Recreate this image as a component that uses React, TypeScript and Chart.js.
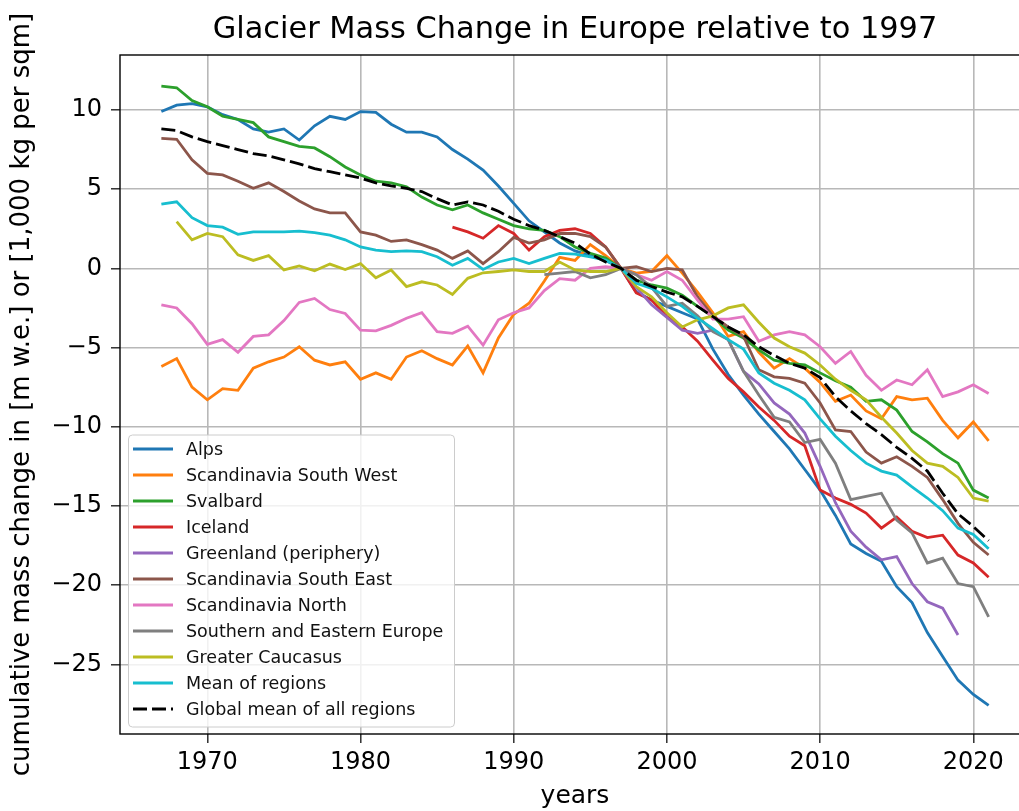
import { useEffect, useRef } from "react";
import { Chart, registerables } from "chart.js";

Chart.register(...registerables);

const years = [
  1967, 1968, 1969, 1970, 1971, 1972, 1973, 1974, 1975, 1976,
  1977, 1978, 1979, 1980, 1981, 1982, 1983, 1984, 1985, 1986,
  1987, 1988, 1989, 1990, 1991, 1992, 1993, 1994, 1995, 1996,
  1997, 1998, 1999, 2000, 2001, 2002, 2003, 2004, 2005, 2006,
  2007, 2008, 2009, 2010, 2011, 2012, 2013, 2014, 2015, 2016,
  2017, 2018, 2019, 2020, 2021,
];

const alps = [
  9.9, 10.3, 10.4, 10.2, 9.7, 9.4, 8.8, 8.6, 8.8, 8.1,
  9.0, 9.6, 9.4, 9.9, 9.85, 9.1, 8.6, 8.6, 8.3, 7.5,
  6.9, 6.2, 5.2, 4.1, 3.0, 2.3, 1.6, 1.1, 0.8, 0.5,
  0, -1.5, -2.0, -2.4, -2.8, -3.2, -5.1, -6.7, -8.0, -9.2,
  -10.3, -11.4, -12.7, -14.0, -15.6, -17.4, -18.0, -18.5, -20.1, -21.1,
  -23.0, -24.5, -26.0, -26.9, -27.6,
];

const scandSouthWest = [
  -6.2, -5.7, -7.5, -8.3, -7.6, -7.7, -6.3, -5.9, -5.6, -4.95,
  -5.8, -6.1, -5.9, -7.0, -6.6, -7.0, -5.6, -5.2, -5.7, -6.1,
  -4.9, -6.6, -4.4, -2.9, -2.2, -0.8, 0.7, 0.5, 1.5, 0.8,
  0, -0.3, -0.2, 0.8, -0.3, -1.5, -2.8, -4.3, -4.0, -5.3,
  -6.3, -5.7, -6.3, -7.2, -8.4, -8.0, -9.0, -9.5, -8.1, -8.3,
  -8.2, -9.6, -10.7, -9.7, -10.9,
];

const svalbard = [
  11.5, 11.4, 10.6, 10.2, 9.6, 9.4, 9.2, 8.3, 8.0, 7.7,
  7.6, 7.05, 6.4, 5.9, 5.5, 5.4, 5.15, 4.5, 4.0, 3.7,
  4.0, 3.5, 3.1, 2.7, 2.5, 2.4, 2.0, 1.35, 0.95, 0.65,
  0, -0.75, -1.05, -1.25, -1.7, -2.4, -3.05, -3.9, -4.4, -5.15,
  -5.8, -6.0, -6.1, -6.6, -7.1, -7.5, -8.4, -8.3, -8.95, -10.3,
  -10.95, -11.7, -12.3, -14.0, -14.5,
];

const iceland = [
  null, null, null, null, null, null, null, null, null, null,
  null, null, null, null, null, null, null, null, null, 2.6,
  2.3, 1.9, 2.7, 2.2, 1.15, 2.0, 2.4, 2.5, 2.2, 1.35,
  0, -1.55, -2.0, -3.05, -3.7, -4.6, -5.8, -6.95, -7.8, -8.75,
  -9.6, -10.6, -11.2, -14.0, -14.5, -14.9, -15.45, -16.4, -15.7, -16.6,
  -17.0, -16.85, -18.1, -18.6, -19.5,
];

const greenland = [
  null, null, null, null, null, null, null, null, null, null,
  null, null, null, null, null, null, null, null, null, null,
  null, null, null, null, null, null, null, null, null, null,
  0, -1.2, -2.3, -3.1, -3.9, -4.1, -3.9, -4.5, -6.5, -7.3,
  -8.5, -9.2, -10.4, -12.5, -14.8, -16.6, -17.6, -18.4, -18.2, -19.9,
  -21.05, -21.45, -23.15, null, null,
];

const scandSouthEast = [
  8.2, 8.15, 6.85, 6.0, 5.9, 5.5, 5.05, 5.4, 4.85, 4.25,
  3.75, 3.5, 3.5, 2.3, 2.1, 1.7, 1.8, 1.5, 1.15, 0.63,
  1.1, 0.3, 1.05, 1.95, 1.6, 1.8, 2.2, 2.2, 2.0, 1.35,
  0, 0.1, -0.2, 0.0, -0.1, -1.8, -3.0, -3.7, -4.3, -6.4,
  -6.85, -6.95, -7.25, -8.5, -10.2, -10.3, -11.6, -12.3, -11.9, -12.5,
  -13.2, -14.6, -16.1, -17.3, -18.1,
];

const scandNorth = [
  -2.3, -2.5, -3.5, -4.8, -4.5, -5.3, -4.3, -4.2, -3.3, -2.15,
  -1.9, -2.6, -2.85, -3.9, -3.95, -3.6, -3.15, -2.8, -4.0, -4.1,
  -3.65, -4.85, -3.25, -2.8, -2.5, -1.4, -0.65, -0.75, 0.0, 0.1,
  0, -0.4, -0.75, -0.2, -0.75, -2.0, -3.2, -3.2, -3.05, -4.6,
  -4.2, -4.0, -4.2, -4.95, -6.0, -5.25, -6.75, -7.7, -7.05, -7.35,
  -6.4, -8.1, -7.8, -7.35, -7.9,
];

const southEastEurope = [
  null, null, null, null, null, null, null, null, null, null,
  null, null, null, null, null, null, null, null, null, null,
  null, null, null, null, null, -0.4, -0.3, -0.2, -0.6, -0.4,
  0, -0.4, -1.2, -2.4, -2.2, -3.0, -4.0, -4.5, -6.5, -8.0,
  -9.4, -9.7, -11.0, -10.8, -12.3, -14.6, -14.4, -14.2, -15.9, -16.7,
  -18.6, -18.3, -19.9, -20.1, -22.0,
];

const caucasus = [
  null, 2.95, 1.8, 2.2, 2.0, 0.85, 0.5, 0.8, -0.1, 0.15,
  -0.15, 0.27, -0.07, 0.3, -0.6, -0.1, -1.15, -0.85, -1.05, -1.65,
  -0.63, -0.28, -0.2, -0.1, -0.2, -0.2, 0.4, -0.1, -0.2, -0.2,
  0, -1.15, -1.8, -2.8, -3.7, -3.25, -3.0, -2.5, -2.3, -3.4,
  -4.4, -4.95, -5.35, -6.1, -7.0, -7.7, -8.3, -9.4, -10.4, -11.5,
  -12.3, -12.5, -13.2, -14.5, -14.7,
];

const meanRegions = [
  4.05, 4.2, 3.2, 2.7, 2.6, 2.15, 2.3, 2.3, 2.3, 2.35,
  2.25, 2.1, 1.8, 1.35, 1.15, 1.05, 1.1, 1.05, 0.73, 0.2,
  0.63, -0.07, 0.4, 0.63, 0.3, 0.63, 0.95, 0.9, 0.73, 0.52,
  0, -0.95, -1.26, -1.8, -2.4, -3.15, -3.8, -4.5, -5.1, -6.6,
  -7.25, -7.7, -8.3, -9.5, -10.6, -11.5, -12.3, -12.8, -13.05, -13.8,
  -14.5, -15.3, -16.4, -16.8, -17.7,
];

const globalMean = [
  8.8, 8.7, 8.3, 8.0, 7.75, 7.5, 7.25, 7.1, 6.85, 6.6,
  6.3, 6.1, 5.9, 5.7, 5.4, 5.2, 5.05, 4.85, 4.4, 4.0,
  4.2, 4.0, 3.6, 3.1, 2.7, 2.4, 2.0, 1.6, 0.9, 0.4,
  0, -0.75, -1.15, -1.5, -1.8, -2.4, -3.05, -3.7, -4.2, -4.95,
  -5.5, -6.0, -6.3, -6.9, -8.1, -9.0, -9.8, -10.5, -11.3, -12.0,
  -12.8, -14.2, -15.5, -16.3, -17.2,
];

const seriesLabels = [
  "Alps",
  "Scandinavia South West",
  "Svalbard",
  "Iceland",
  "Greenland (periphery)",
  "Scandinavia South East",
  "Scandinavia North",
  "Southern and Eastern Europe",
  "Greater Caucasus",
  "Mean of regions",
  "Global mean of all regions",
];
const seriesValues = [
  alps, scandSouthWest, svalbard, iceland, greenland, scandSouthEast,
  scandNorth, southEastEurope, caucasus, meanRegions, globalMean,
];
const seriesColors = [
  "#1f77b4", "#ff7f0e", "#2ca02c", "#d62728", "#9467bd", "#8c564b",
  "#e377c2", "#7f7f7f", "#bcbd22", "#17becf", "#000000",
];

const xTicks = [1970, 1980, 1990, 2000, 2010, 2020];
const yTicks = [-25, -20, -15, -10, -5, 0, 5, 10];

const titleText = "Glacier Mass Change in Europe relative to 1997";
const xTitle = "years";
const yTitle = "cumulative mass change in [m w.e.] or [1,000 kg per sqm]";

const FONT = '"DejaVu Sans", "Liberation Sans", sans-serif';
const DASH = [14, 5];
const LW = 2.8;

const decorPlugin = {
  id: "decor",
  afterDraw(chart: any) {
    const ctx = chart.ctx as CanvasRenderingContext2D;
    const a = chart.chartArea;
    ctx.save();
    // frame
    ctx.strokeStyle = "#000";
    ctx.lineWidth = 1.4;
    ctx.setLineDash([]);
    ctx.strokeRect(a.left, a.top, a.right - a.left, a.bottom - a.top);

    // legend
    const lx = 128.5, ly = 435, lw = 326, lh = 292, r = 4;
    ctx.beginPath();
    ctx.moveTo(lx + r, ly);
    ctx.lineTo(lx + lw - r, ly);
    ctx.quadraticCurveTo(lx + lw, ly, lx + lw, ly + r);
    ctx.lineTo(lx + lw, ly + lh - r);
    ctx.quadraticCurveTo(lx + lw, ly + lh, lx + lw - r, ly + lh);
    ctx.lineTo(lx + r, ly + lh);
    ctx.quadraticCurveTo(lx, ly + lh, lx, ly + lh - r);
    ctx.lineTo(lx, ly + r);
    ctx.quadraticCurveTo(lx, ly, lx + r, ly);
    ctx.closePath();
    ctx.fillStyle = "rgba(255,255,255,0.8)";
    ctx.fill();
    ctx.strokeStyle = "#cccccc";
    ctx.lineWidth = 1;
    ctx.stroke();

    ctx.font = `17.5px ${FONT}`;
    ctx.textAlign = "left";
    ctx.textBaseline = "middle";
    seriesLabels.forEach((lab, i) => {
      const y = 449 + 26 * i;
      ctx.beginPath();
      ctx.strokeStyle = seriesColors[i];
      ctx.lineWidth = LW;
      ctx.setLineDash(i === 10 ? DASH : []);
      ctx.moveTo(133, y);
      ctx.lineTo(173, y);
      ctx.stroke();
      ctx.setLineDash([]);
      ctx.fillStyle = "#111";
      ctx.fillText(lab, 186, y + 1);
    });

    // titles
    const cx = (a.left + a.right) / 2;
    ctx.fillStyle = "#000";
    ctx.textAlign = "center";
    ctx.textBaseline = "middle";
    ctx.font = `30.4px ${FONT}`;
    ctx.fillText(titleText, cx, 30);
    ctx.font = `25px ${FONT}`;
    ctx.fillText(xTitle, cx, 796);
    ctx.save();
    ctx.translate(22, (a.top + a.bottom) / 2);
    ctx.rotate(-Math.PI / 2);
    ctx.font = `26px ${FONT}`;
    ctx.fillText(yTitle, 0, 0);
    ctx.restore();
    ctx.restore();
  },
};

export default function App() {
  const ref = useRef<HTMLCanvasElement | null>(null);

  useEffect(() => {
    if (!ref.current) return;
    const datasets = seriesLabels.map((label, i) => ({
      label,
      data: years.map((yr, j) => ({ x: yr, y: seriesValues[i][j] })),
      borderColor: seriesColors[i],
      backgroundColor: seriesColors[i],
      borderWidth: LW,
      borderDash: i === 10 ? DASH : [],
      pointRadius: 0,
      tension: 0,
      fill: false,
      spanGaps: false,
      order: seriesLabels.length - i,
    }));

    const chart = new Chart(ref.current, {
      type: "line",
      data: { datasets },
      options: {
        animation: false,
        responsive: false,
        devicePixelRatio: 1,
        layout: { padding: { top: 55, left: 0, right: 10, bottom: 0 } },
        plugins: {
          legend: { display: false },
          title: { display: false },
          tooltip: { enabled: false },
        },
        scales: {
          x: {
            type: "linear",
            min: 1964.3,
            max: 2023.7,
            afterFit: (s: any) => {
              s.height = 77;
            },
            afterBuildTicks: (s: any) => {
              s.ticks = xTicks.map((v) => ({ value: v }));
            },
            ticks: {
              includeBounds: false,
              color: "#000",
              padding: 5,
              maxRotation: 0,
              font: { family: FONT, size: 24 },
              callback: (v: any) => String(v),
            },
            grid: {
              color: "#b8b8b8",
              lineWidth: 1.6,
              drawTicks: true,
              tickLength: 9,
              tickColor: "#222",
              tickWidth: 1.4,
            },
            border: { display: false },
          },
          y: {
            type: "linear",
            min: -29.4,
            max: 13.47,
            afterFit: (s: any) => {
              s.width = 120;
            },
            afterBuildTicks: (s: any) => {
              s.ticks = yTicks.map((v) => ({ value: v }));
            },
            ticks: {
              includeBounds: false,
              color: "#000",
              padding: 9,
              font: { family: FONT, size: 24 },
              callback: (v: any) =>
                v < 0 ? "\u2212" + Math.abs(v) : String(v),
            },
            grid: {
              color: "#b8b8b8",
              lineWidth: 1.6,
              drawTicks: true,
              tickLength: 9,
              tickColor: "#222",
              tickWidth: 1.4,
            },
            border: { display: false },
          },
        },
      },
      plugins: [decorPlugin],
    });
    return () => chart.destroy();
  }, []);

  return (
    <div
      style={{
        position: "fixed",
        left: 0,
        top: 0,
        width: 1019,
        height: 811,
        overflow: "hidden",
        background: "#fff",
      }}
    >
      <canvas
        ref={ref}
        width={1040}
        height={811}
        style={{ display: "block", width: 1040, height: 811 }}
      />
    </div>
  );
}
